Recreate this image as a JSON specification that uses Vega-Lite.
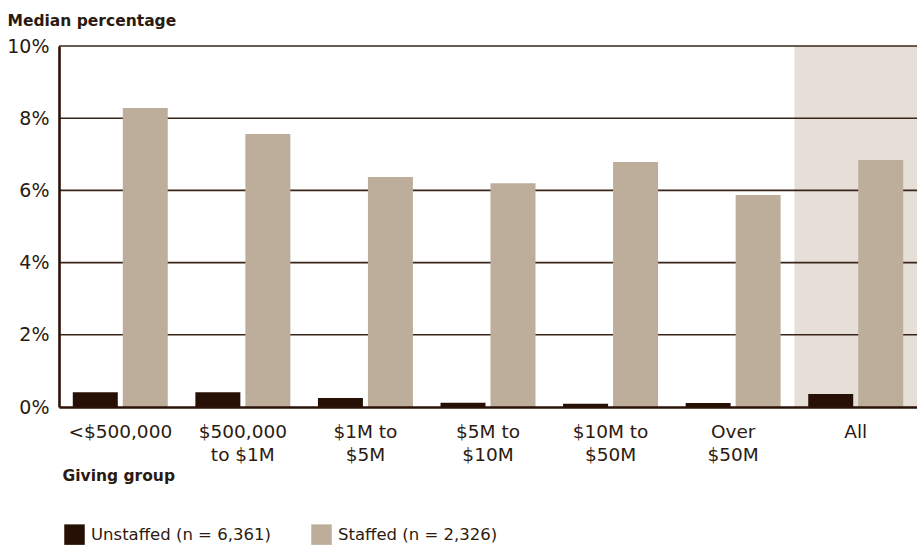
{
  "$schema": "https://vega.github.io/schema/vega-lite/v6.json",
  "width": 858,
  "height": 361,
  "autosize": {"type": "none"},
  "padding": {"left": 59, "top": 46, "right": 0, "bottom": 139},
  "background": "white",
  "config": {
    "view": {"stroke": null},
    "font": "DejaVu Sans",
    "text": {"font": "DejaVu Sans"}
  },
  "datasets": {
    "bars": [
      {"group": "<$500,000", "series": "Unstaffed (n = 6,361)", "value": 0.41},
      {"group": "<$500,000", "series": "Staffed (n = 2,326)", "value": 8.28},
      {"group": "$500,000 to $1M", "series": "Unstaffed (n = 6,361)", "value": 0.41},
      {"group": "$500,000 to $1M", "series": "Staffed (n = 2,326)", "value": 7.56},
      {"group": "$1M to $5M", "series": "Unstaffed (n = 6,361)", "value": 0.25},
      {"group": "$1M to $5M", "series": "Staffed (n = 2,326)", "value": 6.37},
      {"group": "$5M to $10M", "series": "Unstaffed (n = 6,361)", "value": 0.12},
      {"group": "$5M to $10M", "series": "Staffed (n = 2,326)", "value": 6.2},
      {"group": "$10M to $50M", "series": "Unstaffed (n = 6,361)", "value": 0.09},
      {"group": "$10M to $50M", "series": "Staffed (n = 2,326)", "value": 6.79},
      {"group": "Over $50M", "series": "Unstaffed (n = 6,361)", "value": 0.11},
      {"group": "Over $50M", "series": "Staffed (n = 2,326)", "value": 5.87},
      {"group": "All", "series": "Unstaffed (n = 6,361)", "value": 0.36},
      {"group": "All", "series": "Staffed (n = 2,326)", "value": 6.84}
    ],
    "shade": [{"group": "All"}],
    "grid": [{"v": 2}, {"v": 4}, {"v": 6}, {"v": 8}, {"v": 10}]
  },
  "layer": [
    {
      "data": {"name": "shade"},
      "mark": {"type": "rect", "color": "#e6dfd8"},
      "encoding": {
        "x": {"field": "group", "type": "nominal"},
        "y": {"datum": 0, "type": "quantitative"},
        "y2": {"datum": 10}
      }
    },
    {
      "data": {"name": "grid"},
      "mark": {"type": "rule", "color": "#3a2618", "strokeWidth": 1.6},
      "encoding": {
        "y": {"field": "v", "type": "quantitative"}
      }
    },
    {
      "data": {"name": "bars"},
      "mark": {"type": "bar"},
      "encoding": {
        "x": {
          "field": "group",
          "type": "nominal",
          "scale": {
            "domain": ["<$500,000", "$500,000 to $1M", "$1M to $5M", "$5M to $10M", "$10M to $50M", "Over $50M", "All"],
            "paddingInner": 0,
            "paddingOuter": 0
          },
          "axis": {
            "title": "Giving group",
            "titleFontSize": 15.5,
            "titleFontWeight": "bold",
            "titleColor": "#2b1a10",
            "titleAngle": 0,
            "titleAlign": "left",
            "titleBaseline": "alphabetic",
            "titleX": 3,
            "titleY": 73,
            "labelAngle": 0,
            "labelAlign": "center",
            "labelFontSize": 18.5,
            "labelColor": "#2b1a10",
            "labelPadding": 15,
            "labelLineHeight": 23,
            "labelBaseline": "top",
            "labelOverlap": false,
            "ticks": false,
            "domainColor": "#2a1208",
            "domainWidth": 2.6,
            "zindex": 1,
            "labelExpr": "datum.label == '$500,000 to $1M' ? ['$500,000', 'to $1M'] : datum.label == 'Over $50M' ? ['Over', '$50M'] : indexof(datum.label, ' to ') > 0 ? [slice(datum.label, 0, indexof(datum.label, ' to ') + 3), slice(datum.label, indexof(datum.label, ' to ') + 4)] : datum.label"
          }
        },
        "xOffset": {
          "field": "series",
          "type": "nominal",
          "scale": {
            "domain": ["Unstaffed (n = 6,361)", "Staffed (n = 2,326)"],
            "paddingInner": 0.1,
            "paddingOuter": 0.276
          }
        },
        "y": {
          "field": "value",
          "type": "quantitative",
          "scale": {"domain": [0, 10], "nice": false},
          "axis": {
            "values": [0, 2, 4, 6, 8, 10],
            "labelExpr": "datum.value + '%'",
            "labelFontSize": 19,
            "labelColor": "#2b1a10",
            "labelPadding": 10,
            "ticks": false,
            "grid": false,
            "domainColor": "#2a1208",
            "domainWidth": 2.6,
            "zindex": 1,
            "title": "Median percentage",
            "titleFontSize": 15.5,
            "titleFontWeight": "bold",
            "titleColor": "#2b1a10",
            "titleAngle": 0,
            "titleAlign": "left",
            "titleBaseline": "alphabetic",
            "titleX": -52,
            "titleY": -21
          }
        },
        "color": {
          "field": "series",
          "type": "nominal",
          "scale": {
            "domain": ["Unstaffed (n = 6,361)", "Staffed (n = 2,326)"],
            "range": ["#261005", "#bdae9b"]
          },
          "legend": {
            "title": null,
            "orient": "none",
            "direction": "horizontal",
            "legendX": 5,
            "legendY": 478,
            "symbolType": "square",
            "symbolSize": 420,
            "symbolStrokeWidth": 0,
            "labelFontSize": 16.5,
            "labelLimit": 400,
            "labelColor": "#2b1a10",
            "labelOffset": 6,
            "columnPadding": 40
          }
        }
      }
    }
  ]
}
